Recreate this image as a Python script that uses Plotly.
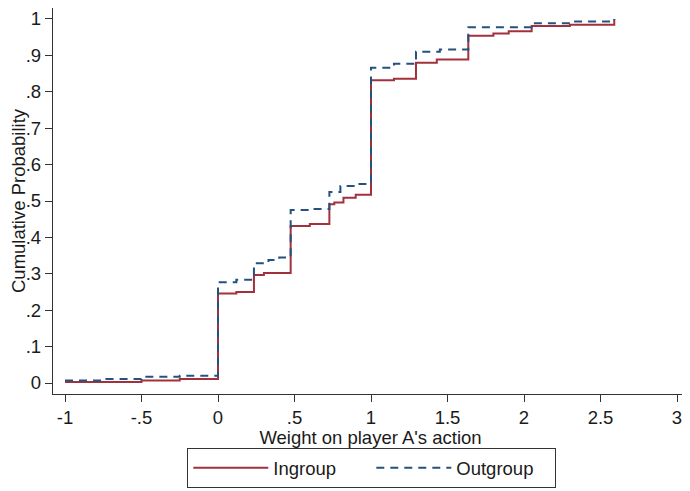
import plotly.graph_objects as go

ingroup_x = [-1.0, -0.5, -0.25, 0.0, 0.12, 0.235, 0.3, 0.475, 0.6, 0.728, 0.76, 0.82, 0.9,
             1.0, 1.15, 1.294, 1.43, 1.636, 1.8, 1.9, 2.05, 2.3, 2.59]
ingroup_y = [0.003, 0.007, 0.011, 0.246, 0.25, 0.297, 0.302, 0.431, 0.437, 0.491, 0.496, 0.509, 0.517,
             0.832, 0.836, 0.88, 0.889, 0.954, 0.96, 0.966, 0.981, 0.984, 1.0]

# Outgroup empirical CDF
outgroup_x = [-1.0, -0.73, -0.5, -0.25, 0.0, 0.12, 0.235, 0.33, 0.4, 0.475, 0.6, 0.728, 0.8, 0.9,
              1.0, 1.15, 1.294, 1.45, 1.636, 2.05, 2.3, 2.59]
outgroup_y = [0.007, 0.011, 0.017, 0.02, 0.277, 0.284, 0.329, 0.338, 0.345, 0.475, 0.478, 0.525, 0.541, 0.547,
              0.866, 0.877, 0.91, 0.916, 0.977, 0.988, 0.993, 1.0]

x_tickvals = [-1, -0.5, 0, 0.5, 1, 1.5, 2, 2.5, 3]
x_ticktext = ["-1", "-.5", "0", ".5", "1", "1.5", "2", "2.5", "3"]
y_tickvals = [0, 0.1, 0.2, 0.3, 0.4, 0.5, 0.6, 0.7, 0.8, 0.9, 1.0]
y_ticktext = ["0", ".1", ".2", ".3", ".4", ".5", ".6", ".7", ".8", ".9", "1"]

FONT = "Liberation Sans, Arial, sans-serif"
TXT = "#1a1a1a"
FS = 18.5

W, H = 682, 483  # page has an 8px body margin

fig = go.Figure()
fig.add_trace(go.Scatter(
    x=ingroup_x, y=ingroup_y, mode="lines", name="Ingroup",
    line=dict(color="#A3303D", width=2, shape="hv"),
))
fig.add_trace(go.Scatter(
    x=outgroup_x, y=outgroup_y, mode="lines", name="Outgroup",
    line=dict(color="#23527F", width=2, shape="hv", dash="8px,6px"),
))

fig.update_layout(
    width=W, height=H,
    margin=dict(l=45, r=2, t=0, b=97),
    paper_bgcolor="white", plot_bgcolor="white",
    font=dict(family=FONT, size=FS, color=TXT),
    xaxis=dict(
        range=[-1.0784, 3.0719], tickvals=x_tickvals, ticktext=x_ticktext,
        showgrid=False, zeroline=False, showline=True, linecolor="#333", linewidth=1.3,
        ticks="outside", ticklen=7, tickcolor="#333", tickwidth=1.3,
        tickfont=dict(size=FS, color=TXT), automargin=False,
        title=dict(text="Weight on player A's action", font=dict(size=FS, color=TXT), standoff=0),
    ),
    yaxis=dict(
        range=[-0.0302, 1.0302], tickvals=y_tickvals, ticktext=y_ticktext,
        showgrid=False, zeroline=False, showline=True, linecolor="#333", linewidth=1.3,
        ticks="outside", ticklen=7, tickcolor="#333", tickwidth=1.3,
        tickfont=dict(size=FS, color=TXT), tickangle=0, automargin=False,
        title=dict(text="Cumulative Probability", font=dict(size=FS, color=TXT), standoff=11),
    ),
    legend=dict(
        orientation="h", xref="container", yref="container",
        x=179 / W, xanchor="left", y=1 - 480 / H, yanchor="bottom",
        bordercolor="#333", borderwidth=1.3, bgcolor="white",
        font=dict(size=FS, color=TXT), itemwidth=75, entrywidth=93,
    ),
    showlegend=True,
)

fig.write_html("out.html")
